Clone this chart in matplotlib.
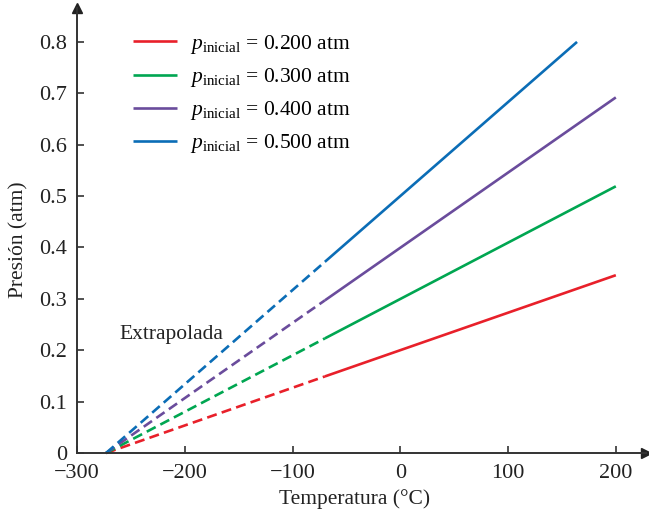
import matplotlib
matplotlib.use("Agg")
import matplotlib.pyplot as plt

plt.rcParams['font.family'] = ['Liberation Serif', 'DejaVu Serif']
plt.rcParams['mathtext.fontset'] = 'custom'
plt.rcParams['mathtext.rm'] = 'Liberation Serif'
plt.rcParams['mathtext.it'] = 'Liberation Serif:italic'

# Data
labels = ["0.200", "0.300", "0.400", "0.500"]
colors = ["#e8202a", "#00a651", "#6a4c9c", "#0b6db6"]
t_zero = -273.0                       # extrapolated intercept (°C)
t_break = -70.0                       # where measured (solid) data begin
p_break = [0.149, 0.223, 0.297, 0.372]
t_end = [200.0, 200.0, 200.0, 164.0]
p_end = [0.346, 0.519, 0.692, 0.800]

xticks = [-300, -200, -100, 0, 100, 200]
xticklabels = ["\u2212300", "\u2212200", "\u2212100", "0", "100", "200"]
yticks = [0, 0.1, 0.2, 0.3, 0.4, 0.5, 0.6, 0.7, 0.8]
yticklabels = ["0", "0.1", "0.2", "0.3", "0.4", "0.5", "0.6", "0.7", "0.8"]

fs = 15.5
fig = plt.figure(figsize=(6.49, 5.13), dpi=100)
ax = fig.add_axes([77/649, 60/513, (646-77)/649, (505-60)/513])
ax.set_xlim(-300, 228)
ax.set_ylim(0, 0.866)

lw = 1.9
handles = []
for lab, c, pb, te, pe in zip(labels, colors, p_break, t_end, p_end):
    ax.plot([t_zero, t_break], [0, pb], color=c, lw=lw, dashes=(3.8, 2.0),
            solid_capstyle='butt', dash_capstyle='butt', clip_on=False)
    h, = ax.plot([t_break, te], [pb, pe], color=c, lw=lw,
                 solid_capstyle='butt', clip_on=False)
    h.set_label(r'$p_{\mathrm{inicial}}$ = ' + lab + ' atm')
    handles.append(h)

ax.text(-261, 0.23, "Extrapolada", fontsize=fs, color="#222222",
        ha='left', va='center')

leg = ax.legend(handles=handles, loc='upper left', bbox_to_anchor=(0.098, 0.944),
                frameon=False, fontsize=fs, handlelength=2.05, handletextpad=0.6,
                labelspacing=0.47, borderaxespad=0, borderpad=0)

ax.set_xticks(xticks)
ax.set_xticklabels(xticklabels)
ax.set_yticks(yticks)
ax.set_yticklabels(yticklabels)
ax.tick_params(direction='in', length=5, width=1.2, colors='#333333',
               labelsize=16, labelcolor='#222222')
ax.tick_params(axis='x', pad=8)
ax.tick_params(axis='y', pad=7)

for s in ['top', 'right']:
    ax.spines[s].set_visible(False)
for s in ['left', 'bottom']:
    ax.spines[s].set_color('#333333')
    ax.spines[s].set_linewidth(1.4)

# axis arrows
ax.plot(1, 0, marker='>', color='#222222', markersize=7,
        transform=ax.transAxes, clip_on=False)
ax.plot(0, 1, marker='^', color='#222222', markersize=7,
        transform=ax.transAxes, clip_on=False)

fig.text(355/649, 1 - 499/513, "Temperatura (\u00b0C)", fontsize=fs,
         ha='center', va='center', color='#222222')
fig.text(19/649, 1 - 240/513, "Presión (atm)", fontsize=fs, rotation=90,
         ha='center', va='center', color='#222222')

fig.savefig("out.png", dpi=100)
